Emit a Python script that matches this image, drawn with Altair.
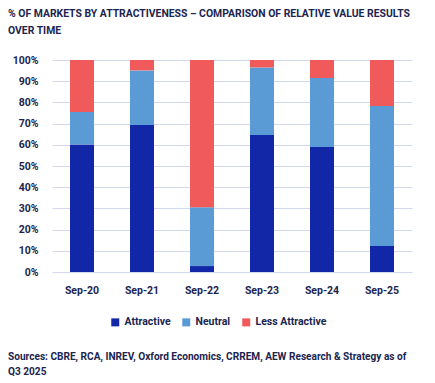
import altair as alt
import pandas as pd

periods = ["Sep-20", "Sep-21", "Sep-22", "Sep-23", "Sep-24", "Sep-25"]
attractive = [60.2, 69.3, 2.8, 64.6, 59.0, 12.3]
neutral = [15.3, 25.8, 27.7, 31.9, 32.5, 66.0]
less_attractive = [24.5, 4.9, 69.5, 3.5, 8.5, 21.7]

categories = ["Attractive", "Neutral", "Less Attractive"]
colors = ["#1226A8", "#5B9BD5", "#F05A5A"]

title_lines = ["% OF MARKETS BY ATTRACTIVENESS \u2013 COMPARISON OF RELATIVE VALUE RESULTS",
               "OVER TIME"]
sources = "Sources: CBRE, RCA, INREV, Oxford Economics, CRREM, AEW Research & Strategy as of\nQ3 2025"

rows = []
for i, p in enumerate(periods):
    for k, (cat, vals) in enumerate(zip(categories, [attractive, neutral, less_attractive])):
        rows.append({"period": p, "category": cat, "value": vals[i] / 100.0, "order": k})
df = pd.DataFrame(rows)

FONT = "Roboto"
TXT = "#1B2550"

bars = alt.Chart(df).mark_bar().encode(
    x=alt.X("period:N", sort=periods, title=None,
            scale=alt.Scale(paddingInner=0.6, paddingOuter=0.3),
            axis=alt.Axis(labelAngle=0, ticks=False, domain=False, labelPadding=13,
                          labelFontSize=10.5, labelFontWeight="bold", labelColor=TXT, labelFont=FONT)),
    y=alt.Y("value:Q", stack="zero", title=None,
            scale=alt.Scale(domain=[0, 1], nice=False),
            axis=alt.Axis(format=".0%", values=[i / 10 for i in range(11)], ticks=False, domain=False,
                          labelPadding=14, labelFontSize=10.5, labelFontWeight="bold", labelColor=TXT,
                          labelFont=FONT, gridColor="#D3D7F0", gridWidth=1.2)),
    color=alt.Color("category:N", sort=categories,
                    scale=alt.Scale(domain=categories, range=colors),
                    legend=alt.Legend(title=None, orient="none", legendX=58, legendY=257,
                                      direction="horizontal", symbolType="square", symbolSize=64,
                                      symbolStrokeWidth=0, labelFontSize=10.5, labelFont=FONT,
                                      labelColor=TXT, labelFontWeight="bold", columnPadding=10,
                                      labelOffset=4)),
    order=alt.Order("order:Q", sort="ascending"),
)

src = alt.Chart(pd.DataFrame({"t": [sources]})).mark_text(
    align="left", baseline="top", lineBreak="\n", font=FONT, fontSize=10.1,
    fontWeight="bold", color=TXT, lineHeight=15
).encode(text="t:N", x=alt.value(-44), y=alt.value(292))

chart = alt.layer(bars, src).properties(
    width=360, height=212,
    title=alt.TitleParams(title_lines, anchor="start", frame="group", dx=-44, offset=19,
                          font=FONT, fontSize=10.4, fontWeight="bold", color=TXT, lineHeight=17),
    autosize="none",
    padding={"left": 44, "top": 52, "right": 15, "bottom": 110},
).configure_view(stroke=None)

chart.save("out.html", embed_options={"renderer": "svg", "actions": False})
